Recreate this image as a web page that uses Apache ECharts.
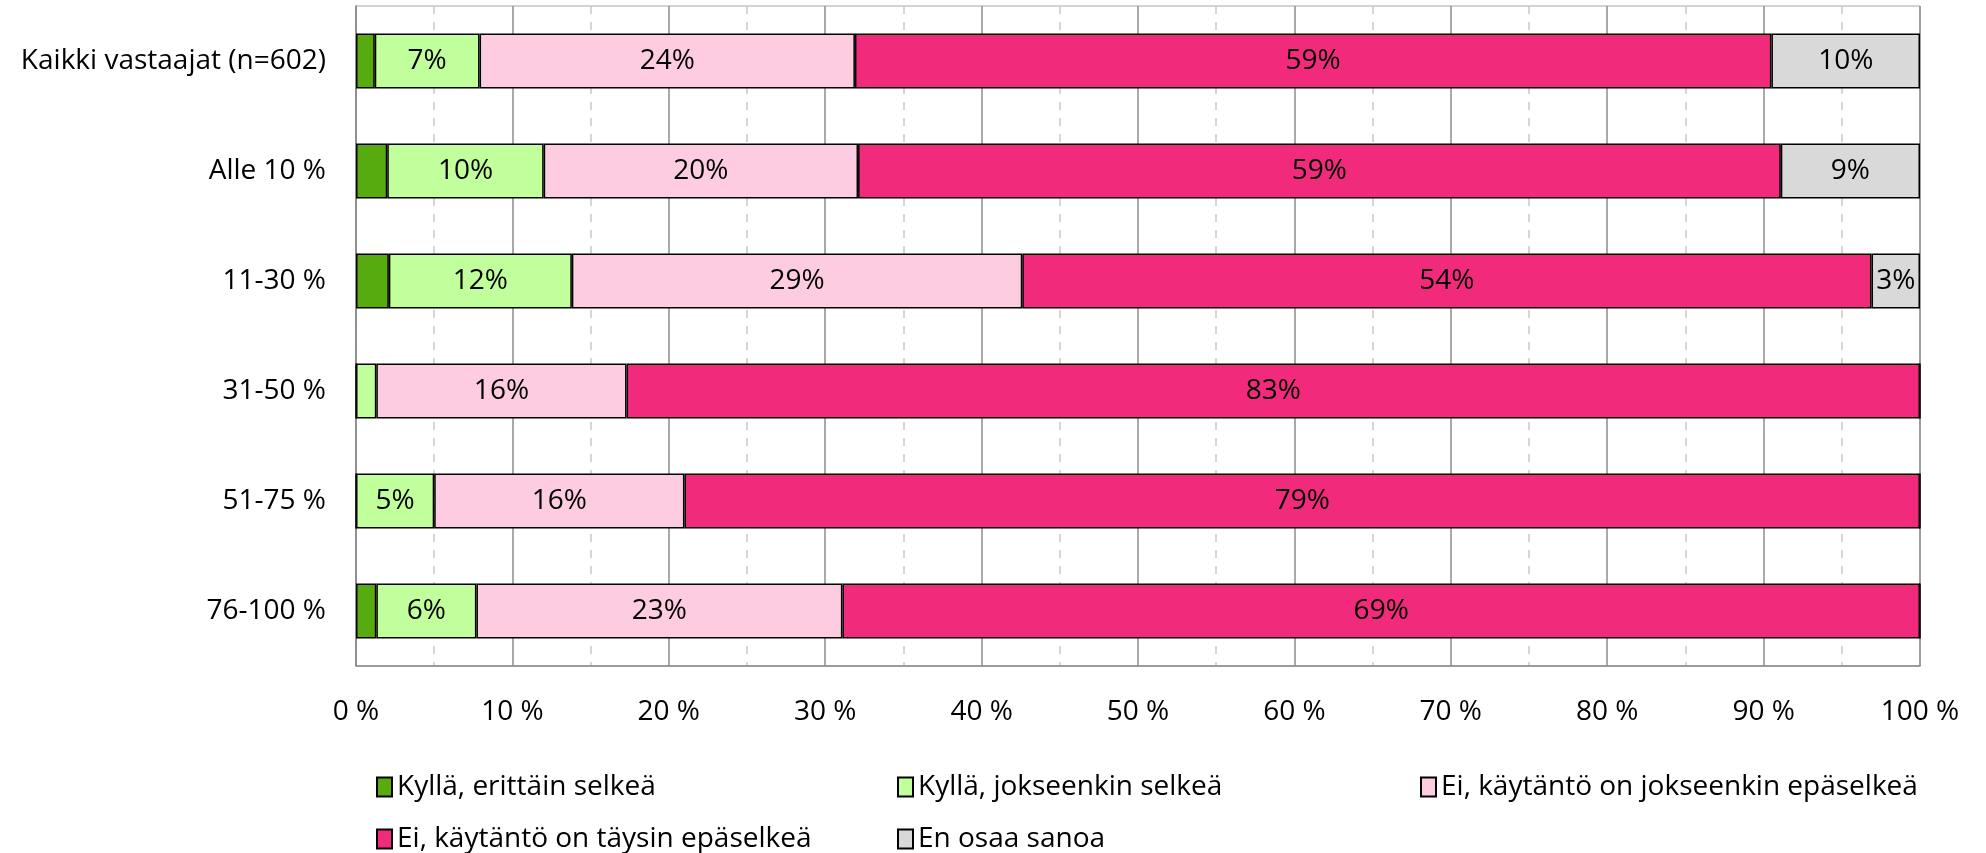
<!DOCTYPE html>
<html>
<head>
<meta charset="utf-8">
<script src="https://cdn.jsdelivr.net/npm/echarts@6/dist/echarts.min.js"></script>
<style>
  html, body { margin: 0; padding: 0; background: #fff; }
  #chart { width: 1986px; height: 853px; }
</style>
</head>
<body>
<div id="chart"></div>
<script>
// categories, top to bottom
const categories = ['Kaikki vastaajat (n=602)', 'Alle 10 %', '11-30 %', '31-50 %', '51-75 %', '76-100 %']

// shares in percent
const erittainSelkea = [1.2, 2.0, 2.1, 0, 0, 1.3]
const jokseenkinSelkea = [6.7, 10.0, 11.7, 1.3, 5.0, 6.4]
const jokseenkinEpaselkea = [24.0, 20.1, 28.8, 16.0, 16.0, 23.4]
const taysinEpaselkea = [58.6, 59.0, 54.3, 82.7, 79.0, 68.9]
const eiOsaa = [9.5, 8.9, 3.1, 0, 0, 0]

const xTicks = [0, 10, 20, 30, 40, 50, 60, 70, 80, 90, 100]

const FONT = "'Open Sans', sans-serif"
const FS = 28

const seriesDefs = [
  { name: 'Kyllä, erittäin selkeä', data: erittainSelkea, color: '#57AB0E' },
  { name: 'Kyllä, jokseenkin selkeä', data: jokseenkinSelkea, color: '#C0FF9C' },
  { name: 'Ei, käytäntö on jokseenkin epäselkeä', data: jokseenkinEpaselkea, color: '#FDCCE0' },
  { name: 'Ei, käytäntö on täysin epäselkeä', data: taysinEpaselkea, color: '#F22A7C' },
  { name: 'En osaa sanoa', data: eiOsaa, color: '#D9D9D9' },
]

// legend slots: [series index, left, top]
const legendSlots = [[0, 376, 773], [1, 897, 773], [2, 1420, 773], [3, 376, 825], [4, 897, 825]]

const chart = echarts.init(document.getElementById('chart'))

chart.setOption({
  animation: false,
  textStyle: { fontFamily: FONT },
  grid: {
    left: 356, right: 66, top: 6, bottom: 187,
    show: true, borderColor: '#a6a6a6', borderWidth: 1,
  },
  legend: legendSlots.map(([i, left, top]) => ({
    left, top,
    padding: 0,
    data: [seriesDefs[i].name],
    itemWidth: 15,
    itemHeight: 19,
    icon: 'rect',
    textStyle: { fontFamily: FONT, fontSize: FS, color: '#000', lineHeight: 28 },
  })),
  xAxis: {
    type: 'value',
    min: xTicks[0],
    max: xTicks[xTicks.length - 1],
    interval: 10,
    axisLine: { show: true, lineStyle: { color: '#8c8c8c', width: 1.5 } },
    axisTick: { show: false },
    axisLabel: {
      fontFamily: FONT, fontSize: FS, color: '#000', margin: 32,
      formatter: v => v + ' %',
    },
    splitLine: { show: true, lineStyle: { color: '#8c8c8c', width: 1.5 } },
    minorTick: { show: false, splitNumber: 2 },
    minorSplitLine: { show: true, lineStyle: { color: '#c8c8c8', width: 1.5, type: [8, 8] } },
  },
  yAxis: {
    type: 'category',
    inverse: true,
    data: categories,
    axisLine: { show: true, lineStyle: { color: '#8c8c8c', width: 1.5 } },
    axisTick: { show: false },
    axisLabel: { fontFamily: FONT, fontSize: FS, color: '#000', margin: 30 },
  },
  series: seriesDefs.map(s => ({
    name: s.name,
    type: 'bar',
    stack: 'total',
    barCategoryGap: '50%',
    data: s.data,
    itemStyle: { color: s.color, borderColor: '#000', borderWidth: 1.5 },
    label: {
      show: true,
      position: 'inside',
      fontFamily: FONT,
      fontSize: FS,
      color: '#000',
      formatter: p => (p.value >= 2.5 ? Math.round(p.value) + '%' : ''),
    },
  })),
})
</script>
</body>
</html>
